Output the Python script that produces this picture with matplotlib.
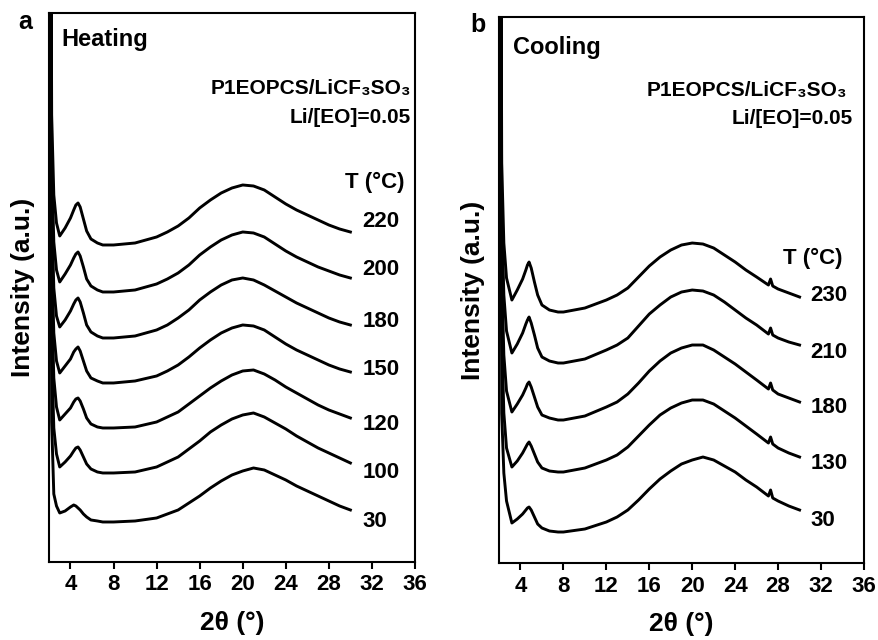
import matplotlib.pyplot as plt

plt.rcParams['font.family'] = ['Liberation Sans', 'DejaVu Sans']
plt.rcParams['font.weight'] = 'bold'

# 2theta grid
tt_a = [2.1, 2.25, 2.45, 2.7, 3.0, 3.5, 4.0, 4.3, 4.5, 4.7, 4.9, 5.2, 5.5, 5.9, 6.5, 7, 8, 10, 12, 13,
        14, 15, 16, 17, 18, 19, 20, 21, 22, 23, 24, 25, 26, 27, 28, 29, 30]
# intensity (a.u., already stacked) for each temperature
heat_220 = [1000, 447, 367, 339, 326, 334, 344, 352, 357, 359, 355, 343, 331, 323, 319, 317, 317, 319, 325, 330,
            336, 344, 354, 362, 369, 374, 377, 376, 372, 365, 358, 352, 347, 342, 337, 333, 330]
heat_200 = [1000, 400, 320, 292, 280, 288, 297, 304, 308, 310, 306, 295, 283, 276, 272, 270, 270, 272, 278, 283,
            289, 297, 307, 315, 322, 327, 330, 329, 325, 318, 311, 305, 300, 295, 291, 287, 284]
heat_180 = [1000, 354, 274, 246, 235, 242, 251, 258, 262, 264, 260, 249, 237, 230, 226, 224, 224, 226, 232, 237,
            244, 252, 262, 270, 277, 282, 284, 282, 277, 271, 265, 259, 254, 249, 244, 240, 237]
heat_150 = [1000, 309, 229, 201, 189, 196, 203, 210, 213, 215, 211, 201, 191, 184, 181, 179, 179, 181, 186, 191,
            197, 205, 214, 222, 229, 234, 237, 236, 232, 225, 218, 212, 207, 202, 197, 193, 190]
heat_120 = [1000, 264, 184, 155, 142, 148, 154, 160, 163, 164, 161, 153, 144, 138, 135, 134, 134, 135, 140, 145,
            150, 158, 166, 174, 181, 187, 191, 192, 188, 182, 175, 169, 163, 157, 152, 148, 144]
heat_100 = [1000, 210, 134, 108, 95, 100, 106, 111, 114, 115, 112, 105, 98, 93, 90, 89, 89, 90, 95, 100,
            105, 113, 121, 130, 137, 143, 147, 149, 145, 139, 133, 126, 120, 114, 109, 104, 99]
heat_30 = [1000, 140, 68, 56, 49, 51, 55, 57, 56, 54, 52, 48, 45, 42, 41, 40, 40, 41, 44, 48,
           52, 59, 66, 74, 81, 87, 91, 94, 92, 87, 82, 76, 71, 66, 61, 56, 52]
heat_labels = ['220', '200', '180', '150', '120', '100', '30']
heat_label_y = [340, 292, 240, 192, 137, 89, 40]

# cooling panel (b)
tt_b = [2.1, 2.25, 2.45, 2.7, 3.2, 3.7, 4.2, 4.5, 4.65, 4.8, 5.0, 5.3, 5.6, 6.0, 6.7, 7.5, 8, 10, 12, 13,
        14, 15, 16, 17, 18, 19, 20, 21, 22, 23, 24, 25, 26, 27.1, 27.3, 27.5, 28, 29, 30]
cool_230 = [1000, 400, 320, 285, 263, 273, 284, 293, 298, 301, 295, 281, 268, 258, 253, 251, 251, 255, 263, 268,
            275, 286, 297, 306, 313, 318, 320, 319, 315, 308, 301, 293, 286, 278, 284, 277, 274, 270, 266]
cool_210 = [1000, 350, 268, 232, 210, 219, 230, 239, 243, 246, 240, 228, 215, 206, 202, 200, 200, 204, 213, 218,
            225, 237, 249, 258, 266, 271, 273, 272, 268, 261, 253, 245, 238, 229, 235, 228, 225, 221, 218]
cool_180 = [1000, 290, 208, 172, 151, 159, 168, 175, 179, 181, 176, 166, 156, 148, 145, 143, 143, 147, 156, 161,
            169, 180, 192, 202, 210, 215, 218, 218, 213, 206, 199, 191, 183, 174, 180, 173, 169, 165, 161]
cool_130 = [1000, 230, 150, 115, 96, 102, 110, 116, 119, 121, 117, 109, 101, 95, 92, 91, 91, 95, 103, 108,
            116, 127, 138, 148, 155, 160, 163, 163, 159, 152, 145, 137, 129, 120, 126, 119, 115, 110, 106]
cool_30 = [1000, 150, 90, 62, 40, 44, 49, 53, 55, 56, 53, 46, 39, 35, 32, 31, 31, 34, 41, 46,
           53, 63, 74, 84, 92, 99, 103, 106, 103, 97, 91, 83, 76, 67, 73, 65, 62, 57, 53]
cool_labels = ['230', '210', '180', '130', '30']
cool_label_y = [268, 211, 156, 100, 43]

xticks = [4, 8, 12, 16, 20, 24, 28, 32, 36]

fig = plt.figure(figsize=(8.79, 6.4), dpi=100)
ax1 = fig.add_axes([0.0557, 0.1219, 0.4164, 0.8578])
ax2 = fig.add_axes([0.5677, 0.1203, 0.4152, 0.8531])


def style(ax, ytop):
    ax.set_xlim(2, 36)
    ax.set_ylim(0, ytop)
    ax.set_xticks(xticks)
    ax.set_yticks([])
    ax.tick_params(axis='x', direction='out', length=5, width=1.5, labelsize=16, pad=4)
    for lab in ax.get_xticklabels():
        lab.set_fontweight('bold')
    for s in ax.spines.values():
        s.set_linewidth(1.5)
    ax.set_xlabel('2θ (°)', fontsize=19, fontweight='bold', labelpad=11)
    ax.set_ylabel('Intensity (a.u.)', fontsize=19, fontweight='bold', labelpad=10)


for ys in [heat_220, heat_200, heat_180, heat_150, heat_120, heat_100, heat_30]:
    ax1.plot(tt_a, ys, 'k-', lw=2.1)
for lab, yl in zip(heat_labels, heat_label_y):
    ax1.text(31.1, yl, lab, fontsize=16, fontweight='bold', va='center', ha='left')
ax1.text(29.5, 380, 'T (°C)', fontsize=16, fontweight='bold', va='center', ha='left')
ax1.text(0.033, 0.951, 'Heating', transform=ax1.transAxes, fontsize=17,
         fontweight='bold', va='center', ha='left')
ax1.text(0.99, 0.862, 'P1EOPCS/LiCF₃SO₃', transform=ax1.transAxes, fontsize=15,
         fontweight='bold', va='center', ha='right')
ax1.text(0.99, 0.809, 'Li/[EO]=0.05', transform=ax1.transAxes, fontsize=15,
         fontweight='bold', va='center', ha='right')
style(ax1, 549)

for ys in [cool_230, cool_210, cool_180, cool_130, cool_30]:
    ax2.plot(tt_b, ys, 'k-', lw=2.1)
for lab, yl in zip(cool_labels, cool_label_y):
    ax2.text(31.0, yl, lab, fontsize=16, fontweight='bold', va='center', ha='left')
ax2.text(28.5, 305, 'T (°C)', fontsize=16, fontweight='bold', va='center', ha='left')
ax2.text(0.038, 0.945, 'Cooling', transform=ax2.transAxes, fontsize=17,
         fontweight='bold', va='center', ha='left')
ax2.text(0.955, 0.866, 'P1EOPCS/LiCF₃SO₃', transform=ax2.transAxes, fontsize=15,
         fontweight='bold', va='center', ha='right')
ax2.text(0.97, 0.815, 'Li/[EO]=0.05', transform=ax2.transAxes, fontsize=15,
         fontweight='bold', va='center', ha='right')
style(ax2, 546)

fig.text(25 / 879, 1 - 22 / 640, 'a', fontsize=18, fontweight='bold', ha='center', va='center')
fig.text(478 / 879, 1 - 25 / 640, 'b', fontsize=18, fontweight='bold', ha='center', va='center')

plt.savefig('out.png', dpi=100)
